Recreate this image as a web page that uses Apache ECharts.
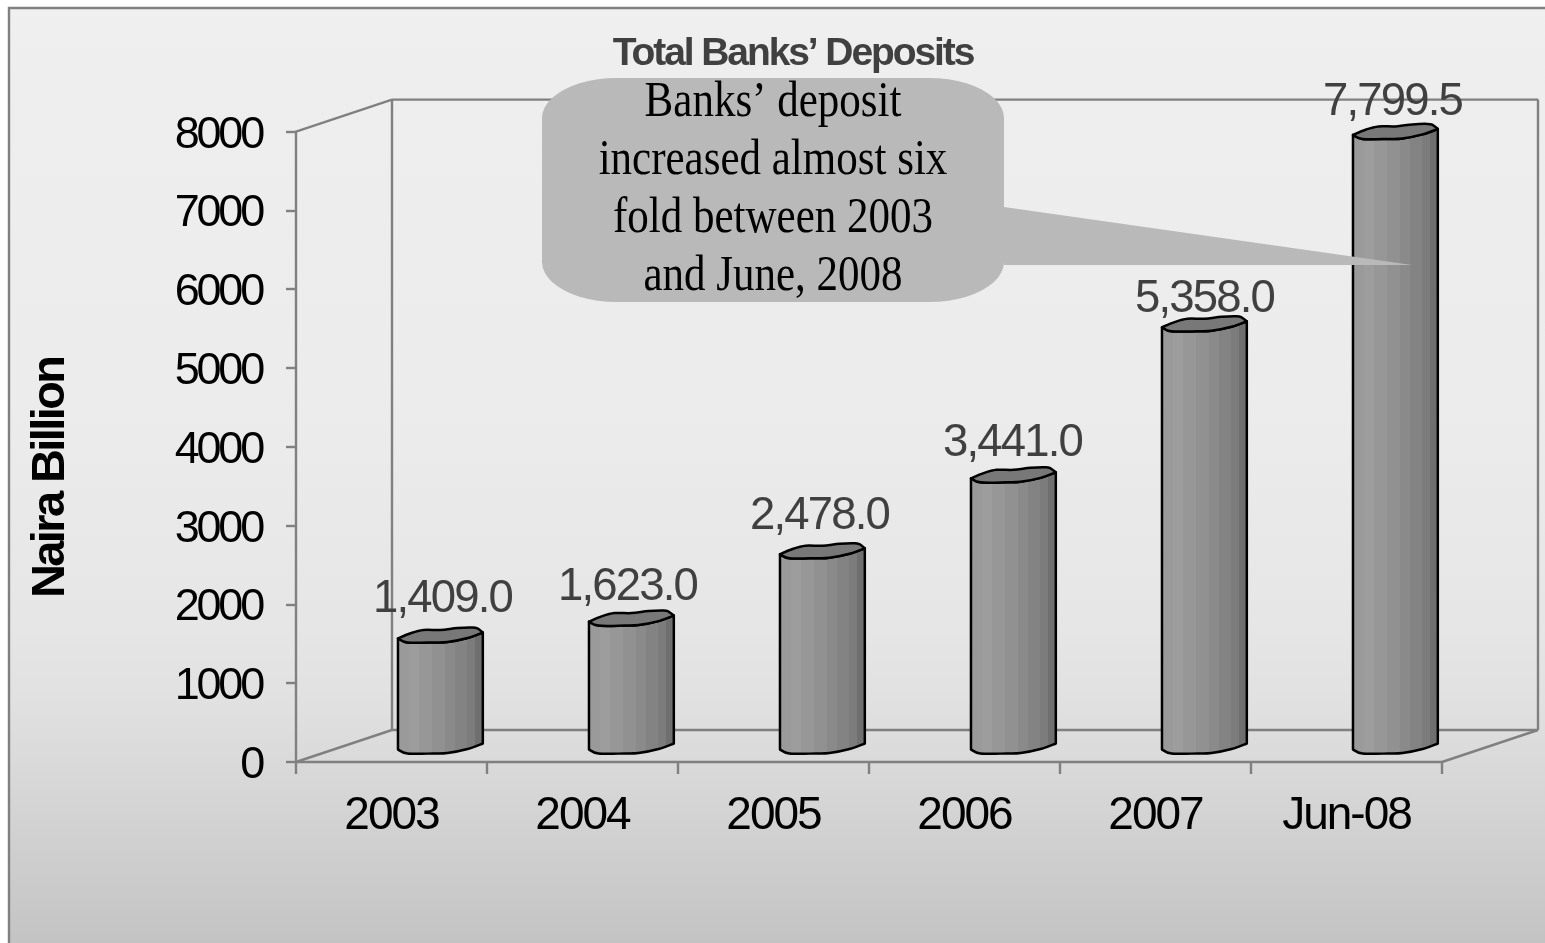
<!DOCTYPE html>
<html>
<head>
<meta charset="utf-8">
<style>html,body{margin:0;padding:0;background:#fff}#chart{width:1545px;height:943px}</style>
<script src="https://cdn.jsdelivr.net/npm/echarts@6/dist/echarts.min.js"></script>
</head>
<body>
<div id="chart"></div>
<script>
// Total banks' deposits, Naira billion
const categories = ['2003', '2004', '2005', '2006', '2007', 'Jun-08'];
const deposits = [1409.0, 1623.0, 2478.0, 3441.0, 5358.0, 7799.5];
const yTicks = { min: 0, max: 8000, interval: 1000 };
const chartTitle = 'Total Banks\u2019 Deposits';
const yTitle = 'Naira Billion';
const calloutLines = ['Banks\u2019 deposit', 'increased almost six', 'fold between 2003', 'and June, 2008'];

// Small nudges that keep each value label clear of its cylinder cap
const labelNudge = [[2, -5], [-4, 0], [-3, -4], [-1, -1], [0, 6], [-3, 2]];

// Tight tracking for the sans-serif text, keyed by font size;
// the 45px value-axis labels also sit slightly lower against their ticks
const tracking = { 45: -3.2, 46: -2, 45.5: -1.8, 39: -2.1, 47: -2.6 };
const baselineDrop = { 45: 3.5 };
const nativeFillText = CanvasRenderingContext2D.prototype.fillText;
CanvasRenderingContext2D.prototype.fillText = function (text, x, y, w) {
  const m = /([\d.]+)px/.exec(this.font);
  const size = m ? parseFloat(m[1]) : 0;
  this.letterSpacing = (tracking[size] || 0) + 'px';
  const yy = y + (baselineDrop[size] || 0);
  return w === undefined ? nativeFillText.call(this, text, x, yy) : nativeFillText.call(this, text, x, yy, w);
};

const SANS = '"Liberation Sans", Arial, sans-serif';
const SERIF = '"Liberation Serif", serif';
const LINE = '#808080';
const DEPTH = [96, -32];

// Cap outline in units of pixels for a cylinder of half-width 42
const UNIT_HALF = 42;
const frontArc = [[-42.5, 3.5], [-33, 7.5], [-7, 7.5], [7, 7], [27, 3], [42.3, -2.5]];
const rearArc = [[42.3, -2.5], [37, -6.5], [32, -7.5], [17, -7], [0, -5], [-17, -5], [-30, -1.7], [-42.5, 3.5]];

const stripeStops = [0, .135, .257, .4, .55, .67, .8, .9, 1];
const stripeGreys = ['#9a9a9a', '#9d9d9d', '#979797', '#919191', '#8a8a8a', '#838383', '#7c7c7c', '#6f6f6f'];
const stripes = [];
stripeGreys.forEach((c, i) => {
  stripes.push({ offset: stripeStops[i], color: c }, { offset: stripeStops[i + 1], color: c });
});

// Catmull-Rom curve through the points, returned as SVG path commands
function curve(pts) {
  let d = '';
  for (let i = 0; i < pts.length - 1; i++) {
    const p0 = pts[Math.max(i - 1, 0)], p1 = pts[i], p2 = pts[i + 1], p3 = pts[Math.min(i + 2, pts.length - 1)];
    d += 'C' + (p1[0] + (p2[0] - p0[0]) / 6) + ' ' + (p1[1] + (p2[1] - p0[1]) / 6) + ' ' +
      (p2[0] - (p3[0] - p1[0]) / 6) + ' ' + (p2[1] - (p3[1] - p1[1]) / 6) + ' ' + p2[0] + ' ' + p2[1];
  }
  return d;
}

function renderCylinder(params, api) {
  const i = api.value(0);
  const value = api.value(1);
  const top = api.coord([i, value]);
  const base = api.coord([i, 0]);
  const half = api.size([1, 0])[0] * 0.22;
  const k = half / UNIT_HALF;
  const cx = top[0] + DEPTH[0] / 2 + 1;
  const place = (arc, y) => arc.map(p => [cx + p[0] * k, y + p[1] * k]);
  const topY = top[1] + DEPTH[1] / 2;
  const baseY = base[1] + DEPTH[1] / 2;
  const capFront = place(frontArc, topY);
  const capRear = place(rearArc, topY);
  const baseFront = place(frontArc, baseY);
  const rightTop = capFront[capFront.length - 1];
  const leftTop = capFront[0];
  const reversedCap = capFront.slice().reverse();
  const body = 'M' + baseFront[0].join(' ') + curve(baseFront) + 'L' + rightTop.join(' ') +
    curve(reversedCap) + 'Z';
  const cap = 'M' + leftTop.join(' ') + curve(capFront) + curve(capRear) + 'Z';
  const nudge = labelNudge[i];
  return {
    type: 'group',
    children: [
      {
        type: 'path',
        shape: { pathData: body },
        style: {
          fill: new echarts.graphic.LinearGradient(0, 0, 1, 0, stripes),
          stroke: '#000', lineWidth: 2.5, lineJoin: 'round'
        }
      },
      {
        type: 'path',
        shape: { pathData: cap },
        style: { fill: '#787878', stroke: '#000', lineWidth: 2.5, lineJoin: 'round' }
      },
      {
        type: 'text',
        style: {
          text: value.toLocaleString('en-US', { minimumFractionDigits: 1, maximumFractionDigits: 1 }),
          x: cx + nudge[0],
          y: topY - 30.5 + nudge[1],
          align: 'center',
          verticalAlign: 'middle',
          fill: '#404040',
          font: '45.5px ' + SANS
        }
      }
    ]
  };
}

// Back wall, floor and side-wall edges of the chart box
function renderBox(params) {
  const g = params.coordSys;
  const [dx, dy] = DEPTH;
  const segs = [
    [g.x, g.y, g.x + dx, g.y + dy],
    [g.x, g.y + g.height, g.x + dx, g.y + g.height + dy],
    [g.x + g.width, g.y + g.height, g.x + g.width + dx, g.y + g.height + dy],
    [g.x + dx, g.y + dy, g.x + g.width + dx, g.y + dy],
    [g.x + dx, g.y + g.height + dy, g.x + g.width + dx, g.y + g.height + dy],
    [g.x + dx, g.y + dy, g.x + dx, g.y + g.height + dy],
    [g.x + g.width + dx, g.y + dy, g.x + g.width + dx, g.y + g.height + dy]
  ];
  return {
    type: 'group',
    children: segs.map(s => ({
      type: 'line',
      shape: { x1: s[0], y1: s[1], x2: s[2], y2: s[3] },
      style: { stroke: LINE, lineWidth: 2.4 }
    }))
  };
}

// Callout outline: a box with elliptical corners and a pointer running right
function calloutOutline() {
  const L = 542, R = 1004, T = 78, B = 302, RX = 75, RY = 40, pts = [];
  const corner = (cx, cy, from) => {
    for (let a = 0; a <= 12; a++) {
      const t = from + a / 12 * Math.PI / 2;
      pts.push([cx + RX * Math.cos(t), cy + RY * Math.sin(t)]);
    }
  };
  corner(L + RX, T + RY, Math.PI);
  corner(R - RX, T + RY, -Math.PI / 2);
  pts.push([R, 207], [1412, 265], [R, 265]);
  corner(R - RX, B - RY, 0);
  corner(L + RX, B - RY, Math.PI / 2);
  return pts;
}

const chart = echarts.init(document.getElementById('chart'), null, { renderer: 'canvas' });
chart.setOption({
  animation: false,
  backgroundColor: '#ffffff',
  title: {
    text: chartTitle,
    left: 788,
    top: 30,
    textAlign: 'center',
    textStyle: { color: '#404040', fontFamily: SANS, fontWeight: 'bold', fontSize: 39 }
  },
  grid: { left: 296, top: 131.6, width: 1146, height: 630.4, outerBoundsMode: 'none', containLabel: false },
  xAxis: {
    type: 'category',
    data: categories,
    axisLine: { show: true, onZero: false, lineStyle: { color: LINE, width: 2.4 } },
    axisTick: { show: true, length: 12, alignWithLabel: false, lineStyle: { color: LINE, width: 2.4 } },
    axisLabel: { color: '#000', fontFamily: SANS, fontSize: 46, margin: 31, interval: 0 }
  },
  yAxis: {
    type: 'value',
    min: yTicks.min,
    max: yTicks.max,
    interval: yTicks.interval,
    name: yTitle,
    nameLocation: 'middle',
    nameRotate: 90,
    nameGap: 221,
    nameMoveOverlap: false,
    nameTextStyle: { color: '#000', fontFamily: SANS, fontWeight: 'bold', fontSize: 47, padding: [0, 62, 0, 0] },
    splitLine: { show: false },
    axisLine: { show: true, onZero: false, lineStyle: { color: LINE, width: 2.4 } },
    axisTick: { show: true, length: 10, lineStyle: { color: LINE, width: 2.4 } },
    axisLabel: { color: '#000', fontFamily: SANS, fontSize: 45, margin: 34, formatter: v => String(v) }
  },
  graphic: [
    {
      type: 'rect',
      z: -10,
      shape: { x: 9, y: 8, width: 1560, height: 960 },
      style: {
        stroke: LINE,
        lineWidth: 2.4,
        fill: new echarts.graphic.LinearGradient(0, 0, 0, 1, [
          { offset: 0, color: '#f0f0f0' },
          { offset: 0.054, color: '#eeeeee' },
          { offset: 0.41, color: '#ececec' },
          { offset: 0.64, color: '#e6e6e6' },
          { offset: 0.72, color: '#e1e1e1' },
          { offset: 0.79, color: '#d9d9d9' },
          { offset: 0.877, color: '#cfcfcf' },
          { offset: 0.974, color: '#c3c3c3' },
          { offset: 1, color: '#c3c3c3' }
        ])
      }
    },
    {
      type: 'polygon',
      z: 50,
      shape: { points: calloutOutline() },
      style: { fill: '#b9b9b9' }
    },
    {
      type: 'text',
      z: 51,
      x: 773,
      y: 190,
      scaleX: 0.86,
      style: {
        text: calloutLines.join('\n'),
        align: 'center',
        verticalAlign: 'middle',
        lineHeight: 58,
        fill: '#000',
        font: '50px ' + SERIF
      }
    }
  ],
  series: [
    {
      type: 'custom',
      name: 'box',
      z: 1,
      silent: true,
      renderItem: renderBox,
      data: [0]
    },
    {
      type: 'custom',
      name: 'Deposits',
      z: 3,
      renderItem: renderCylinder,
      encode: { x: 0, y: 1 },
      data: deposits.map((v, i) => [i, v])
    }
  ]
});
</script>
</body>
</html>
